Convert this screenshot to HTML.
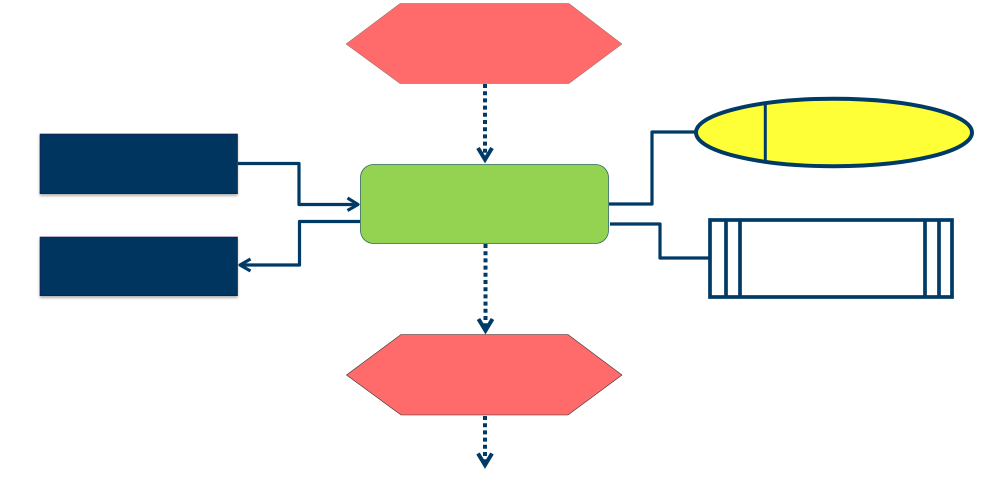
<!DOCTYPE html>
<html>
<head>
<meta charset="utf-8">
<style>
html,body{margin:0;padding:0;background:#fff;width:1000px;height:482px;overflow:hidden}
svg{display:block}
</style>
</head>
<body>
<svg width="1000" height="482" viewBox="0 0 1000 482" xmlns="http://www.w3.org/2000/svg">
<defs>
<filter id="s" x="-5%" y="-10%" width="110%" height="125%">
<feDropShadow dx="0" dy="2" stdDeviation="1.2" flood-color="#000" flood-opacity="0.3"/>
</filter>
</defs>
<!-- Hexagons -->
<polygon points="346,44 400,3.5 569,3.5 622,44 569,83.5 400,83.5" fill="#ff6b6b" stroke="#555" stroke-width="0.4"/>
<polygon points="346.5,375 401,334.5 568,334.5 622,375 568,415 401,415" fill="#ff6b6b" stroke="#333" stroke-width="0.6"/>
<!-- Navy boxes -->
<rect x="40" y="134" width="197.5" height="59.7" fill="#003560" stroke="#2a0a50" stroke-width="0.6" filter="url(#s)"/>
<rect x="40" y="237" width="197.5" height="58.7" fill="#003560" stroke="#2a0a50" stroke-width="0.6" filter="url(#s)"/>
<!-- Green process -->
<rect x="360.5" y="164.5" width="248" height="79" rx="13" ry="13" fill="#94d352" stroke="#2f6a5f" stroke-width="0.8"/>
<!-- Solid connectors -->
<g fill="none" stroke="#003a66" stroke-width="3.2" stroke-linejoin="round" stroke-linecap="butt">
<path d="M238,163.5H299V204.5H358"/>
<path d="M347.5,198L358,204.5L347.5,210.5"/>
<path d="M360,221.5H299.5V265H240"/>
<path d="M250.5,259L240,265L250.5,271"/>
<path d="M609,204H652V132H695"/>
<path d="M610,224H660V258H709"/>
</g>
<!-- Dotted connectors -->
<g fill="none" stroke="#003a66" stroke-width="4" stroke-dasharray="4 3.2">
<path d="M485,84V158"/>
<path d="M485.5,244V329"/>
<path d="M485,416V462"/>
</g>
<!-- Arrowheads on dotted -->
<g fill="none" stroke="#003a66" stroke-width="4" stroke-linejoin="miter">
<path d="M478,148L485,159.5L492,148"/>
<path d="M478.5,319L485.5,330.5L492.5,319"/>
<path d="M478,453.5L485,465L492,453.5"/>
</g>
<!-- Ellipse -->
<ellipse cx="834" cy="132.5" rx="138" ry="33.7" fill="#ffff38" stroke="#003a66" stroke-width="4"/>
<line x1="765.3" y1="102" x2="765.3" y2="163" stroke="#003a66" stroke-width="3"/>
<!-- Predefined process -->
<rect x="710" y="220" width="242" height="77" fill="#fff" stroke="#003a66" stroke-width="3.7"/>
<g stroke="#003a66" stroke-width="3.7">
<line x1="726" y1="220" x2="726" y2="297"/>
<line x1="740" y1="220" x2="740" y2="297"/>
<line x1="925" y1="220" x2="925" y2="297"/>
<line x1="939" y1="220" x2="939" y2="297"/>
</g>
</svg>
</body>
</html>
